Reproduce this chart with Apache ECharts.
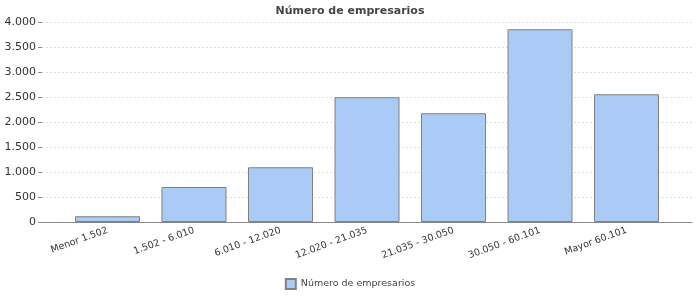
<!DOCTYPE html>
<html>
<head>
<meta charset="utf-8">
<script src="https://cdn.jsdelivr.net/npm/echarts@6/dist/echarts.min.js"></script>
<style>html,body{margin:0;padding:0;background:#fff}#c{width:700px;height:300px}</style>
</head>
<body>
<div id="c"></div>
<script>
var categories = ['Menor 1.502', '1.502 - 6.010', '6.010 - 12.020', '12.020 - 21.035', '21.035 - 30.050', '30.050 - 60.101', 'Mayor 60.101'];
var values = [115, 700, 1095, 2495, 2175, 3855, 2555];
var seriesName = 'Número de empresarios';
var titleText = 'Número de empresarios';

var chart = echarts.init(document.getElementById('c'), null, {renderer: 'canvas'});
var idx = categories.map(function (c, i) { return i; });
var data = values.map(function (v, i) { return [i, v]; });
var fmt = function (v) { return String(v).replace(/\B(?=(\d{3})+(?!\d))/g, '.'); };

chart.setOption({
  animation: false,
  title: {
    text: titleText, left: 'center', top: 1,
    textStyle: {fontFamily: 'DejaVu Sans', fontSize: 11, fontWeight: 'bold', color: '#444'}
  },
  legend: {
    bottom: 5, left: 'center', itemWidth: 10, itemHeight: 10, itemGap: 5,
    icon: 'rect',
    textStyle: {fontFamily: 'DejaVu Sans', fontSize: 9.5, color: '#444'},
    data: [seriesName]
  },
  grid: {left: 42, right: 8, top: 22, bottom: 78, containLabel: false},
  xAxis: {
    type: 'value', min: -0.757, max: 6.757,
    splitLine: {show: false},
    axisLine: {show: true, onZero: false, lineStyle: {color: '#888', width: 1}},
    axisTick: {show: false},
    axisLabel: {
      customValues: idx, rotate: 20, fontSize: 9.5, fontFamily: 'DejaVu Sans', color: '#333', margin: 8,
      formatter: function (v) { return categories[Math.round(v)] || ''; }
    }
  },
  yAxis: {
    type: 'value', min: 0, max: 4000, interval: 500,
    axisLine: {show: false, onZero: false},
    axisTick: {show: true, length: 4, lineStyle: {color: '#888'}},
    axisLabel: {fontSize: 11, fontFamily: 'DejaVu Sans', color: '#333', margin: 6, formatter: fmt},
    splitLine: {show: true, lineStyle: {color: '#ddd', type: [2, 2], width: 1}}
  },
  series: [{
    name: seriesName, type: 'bar', data: data, barWidth: 65,
    itemStyle: {color: '#A9CBF5', borderColor: '#808080', borderWidth: 1}
  }]
});
</script>
</body>
</html>
